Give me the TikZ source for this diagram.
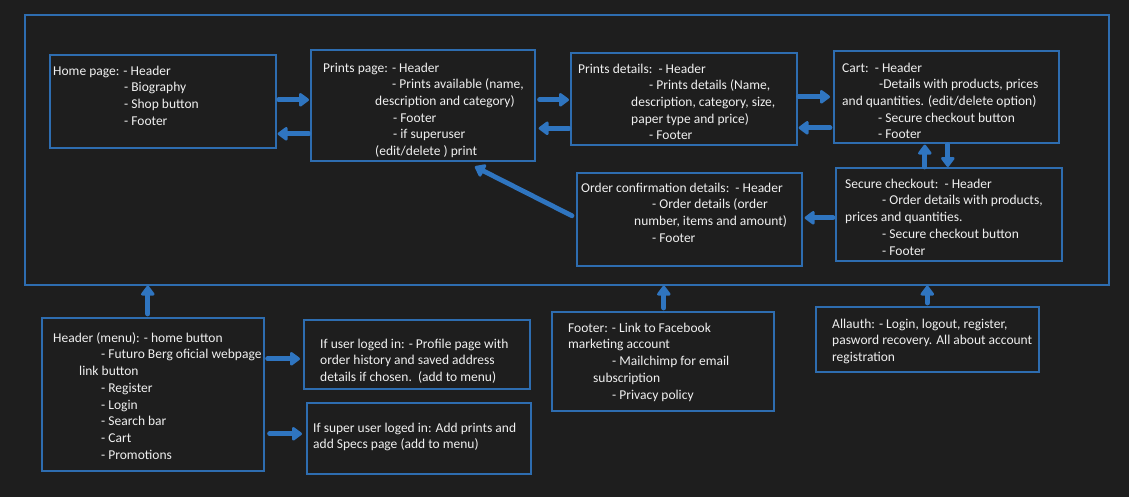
\documentclass[tikz,border=0pt]{standalone}
\usepackage{fontspec}
\setmainfont{Carlito}
\usetikzlibrary{arrows.meta}
\definecolor{bg}{HTML}{1E1E1E}
\definecolor{boxblue}{HTML}{2E6DB0}
\definecolor{arrblue}{HTML}{2F75C0}
\definecolor{txtc}{HTML}{F0F0F0}
\begin{document}
\begin{tikzpicture}[x=1pt,y=-1pt,
  box/.style={draw=boxblue,line width=1.6pt,inner sep=0pt,anchor=north west},
  txt/.style={text=txtc,align=left,inner sep=0pt,anchor=north west,font=\fontsize{13.5}{16.7}\selectfont,yshift=11.69pt},
  arr/.style={draw=arrblue,line width=4.8pt,line cap=round,-{Triangle[width=15.5pt,length=11pt,round]}}]
\fill[bg] (0,0) rectangle (1129,497);
\useasboundingbox (0,0) rectangle (1129,497);
% boxes
\node[box,minimum width=1084pt,minimum height=270pt] (outer) at (24,14) {};
\node[box,minimum width=226pt,minimum height=93pt] (home) at (49,54) {};
\node[box,minimum width=224pt,minimum height=111pt] (prints) at (310,49) {};
\node[box,minimum width=226pt,minimum height=92pt] (pdet) at (570,52) {};
\node[box,minimum width=225pt,minimum height=92pt] (cart) at (833,50) {};
\node[box,minimum width=225pt,minimum height=93pt] (order) at (576,172) {};
\node[box,minimum width=226pt,minimum height=93pt] (secure) at (835,167) {};
\node[box,minimum width=222pt,minimum height=153pt] (header) at (41,317) {};
\node[box,minimum width=226pt,minimum height=69pt] (ifuser) at (303,319) {};
\node[box,minimum width=224pt,minimum height=71pt] (super) at (306,402) {};
\node[box,minimum width=222pt,minimum height=99pt] (footer) at (551,311) {};
\node[box,minimum width=223pt,minimum height=65pt] (allauth) at (815,306) {};
% texts (positions are first-line baselines; yshift moves the strut top there)
\node[txt] (homet) at (53,75) {\strut Home page: - Header\\\hspace*{71pt}- Biography\\\hspace*{71pt}- Shop button\\\hspace*{71pt}- Footer};
\node[txt] (printst) at (323,72) {\strut Prints page: - Header\\\hspace*{69pt}- Prints available (name,\\\hspace*{52pt}description and category)\\\hspace*{70pt}- Footer\\\hspace*{70pt}- if superuser\\\hspace*{52pt}(edit/delete ) print};
\node[txt] (pdett) at (578,73) {\strut Prints details:\ \ - Header\\\hspace*{71pt}- Prints details (Name,\\\hspace*{53pt}description, category, size,\\\hspace*{53pt}paper type and price)\\\hspace*{71pt}- Footer};
\node[txt] (cartt) at (842,72) {\strut Cart:\ \ - Header\\\hspace*{37pt}-Details with products, prices\\and quantities. (edit/delete option)\\\hspace*{36pt}- Secure checkout button\\\hspace*{36pt}- Footer};
\node[txt] (ordert) at (581,192) {\strut Order confirmation details:\ \ - Header\\\hspace*{71pt}- Order details (order\\\hspace*{53pt}number, items and amount)\\\hspace*{71pt}- Footer};
\node[txt] (securet) at (845,188) {\strut Secure checkout:\ \ - Header\\\hspace*{37pt}- Order details with products,\\prices and quantities.\\\hspace*{37pt}- Secure checkout button\\\hspace*{37pt}- Footer};
\node[txt] (headert) at (53,342) {\strut Header (menu): - home button\\\hspace*{48pt}- Futuro Berg oficial webpage\\\hspace*{26pt}link button\\\hspace*{48pt}- Register\\\hspace*{48pt}- Login\\\hspace*{48pt}- Search bar\\\hspace*{48pt}- Cart\\\hspace*{48pt}- Promotions};
\node[txt] (ifusert) at (320,348) {\strut If user loged in: - Profile page with\\order history and saved address\\details if chosen.\ \ (add to menu)};
\node[txt] (supert) at (313,432) {\strut If super user loged in: Add prints and\\add Specs page (add to menu)};
\node[txt] (footert) at (568,332) {\strut Footer: - Link to Facebook\\marketing account\\\hspace*{44pt}- Mailchimp for email\\\hspace*{25pt}subscription\\\hspace*{44pt}- Privacy policy};
\node[txt] (allautht) at (832,328) {\strut Allauth: - Login, logout, register,\\pasword recovery. All about account\\registration};
% connectors
\coordinate (a1) at ([xshift=2pt,yshift=1.5pt]home.east);
\draw[arr] (a1) -- ([xshift=-1pt]a1 -| prints.west);
\coordinate (a2) at ([xshift=-1pt,yshift=-28.5pt]prints.west);
\draw[arr] (a2) -- ([xshift=1pt]a2 -| home.east);
\coordinate (a3) at ([xshift=4pt,yshift=5.5pt]prints.east);
\draw[arr] (a3) -- ([xshift=-1pt]a3 -| pdet.west);
\coordinate (a4) at ([xshift=-1pt,yshift=-29.5pt]pdet.west);
\draw[arr] (a4) -- ([xshift=3pt]a4 -| prints.east);
\coordinate (a5) at ([xshift=1pt,yshift=2pt]pdet.east);
\draw[arr] (a5) -- ([xshift=-3pt]a5 -| cart.west);
\coordinate (a6) at ([xshift=-3pt,yshift=-31pt]cart.west);
\draw[arr] (a6) -- ([xshift=1pt]a6 -| pdet.east);
\coordinate (a7) at ([xshift=-24pt]secure.north);
\draw[arr] (a7) -- ([yshift=-1pt]a7 |- cart.south);
\coordinate (a8) at ([xshift=1.5pt,yshift=-1pt]cart.south);
\draw[arr] (a8) -- (a8 |- secure.north);
\coordinate (a9) at ([xshift=-2pt,yshift=-3.5pt]secure.west);
\draw[arr] (a9) -- ([xshift=2pt]a9 -| order.east);
\coordinate (a10) at ([xshift=-4pt,yshift=3.5pt]order.west);
\draw[arr] (a10) -- ([xshift=52pt,yshift=-5pt]prints.south);
\coordinate (b1) at ([xshift=-5pt,yshift=3pt]header.north);
\draw[arr] (b1) -- (b1 |- outer.south);
\coordinate (b2) at ([xshift=3pt]header.east |- ifuser.west);
\draw[arr] ([yshift=-4.5pt]b2) -- ([xshift=-3pt,yshift=-4.5pt]ifuser.west);
\coordinate (b3) at ([xshift=5pt,yshift=4.5pt]header.east |- super.west);
\draw[arr] (b3) -- ([xshift=-4pt]b3 -| super.west);
\coordinate (b4) at ([xshift=1pt,yshift=3pt]footer.north);
\draw[arr] (b4) -- (b4 |- outer.south);
\coordinate (b5) at ([yshift=3pt]allauth.north);
\draw[arr] (b5) -- (b5 |- outer.south);
\end{tikzpicture}
\end{document}
